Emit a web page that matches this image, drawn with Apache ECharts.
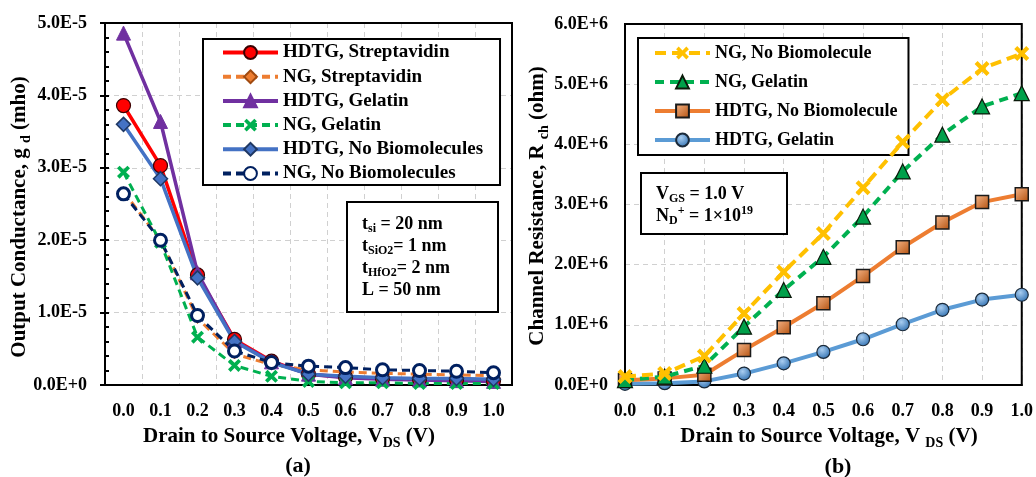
<!DOCTYPE html>
<html><head><meta charset="utf-8">
<script src="https://cdn.jsdelivr.net/npm/echarts@6/dist/echarts.min.js"></script>
<style>html,body{margin:0;padding:0;background:#fff}#c{width:1036px;height:477px}</style>
</head><body><div id="c"></div>
<script>
// ---------- data ----------
const vdsCategories = ['0.0','0.1','0.2','0.3','0.4','0.5','0.6','0.7','0.8','0.9','1.0'];
const vdsValues = [0.0,0.1,0.2,0.3,0.4,0.5,0.6,0.7,0.8,0.9,1.0];

// (a) output conductance (mho)
const gdHdtgStrept = [3.86e-5,3.03e-5,1.52e-5,0.63e-5,0.33e-5,0.15e-5,0.11e-5,0.09e-5,0.08e-5,0.07e-5,0.06e-5];
const gdNgStrept   = [2.67e-5,2.00e-5,0.92e-5,0.43e-5,0.28e-5,0.21e-5,0.18e-5,0.16e-5,0.15e-5,0.14e-5,0.13e-5];
const gdHdtgGel    = [4.86e-5,3.64e-5,1.55e-5,0.61e-5,0.32e-5,0.15e-5,0.10e-5,0.08e-5,0.07e-5,0.06e-5,0.05e-5];
const gdNgGel      = [2.94e-5,1.97e-5,0.66e-5,0.27e-5,0.12e-5,0.05e-5,0.03e-5,0.03e-5,0.02e-5,0.02e-5,0.02e-5];
const gdHdtgNoBio  = [3.60e-5,2.85e-5,1.48e-5,0.60e-5,0.31e-5,0.15e-5,0.12e-5,0.10e-5,0.09e-5,0.09e-5,0.08e-5];
const gdNgNoBio    = [2.64e-5,2.00e-5,0.96e-5,0.47e-5,0.31e-5,0.26e-5,0.24e-5,0.21e-5,0.20e-5,0.19e-5,0.17e-5];

// (b) channel resistance (ohm)
const rNgNoBio   = [0.14e6,0.19e6,0.48e6,1.19e6,1.88e6,2.52e6,3.28e6,4.04e6,4.74e6,5.26e6,5.51e6];
const rNgGel     = [0.08e6,0.14e6,0.32e6,0.97e6,1.58e6,2.13e6,2.80e6,3.55e6,4.16e6,4.63e6,4.85e6];
const rHdtgNoBio = [0.08e6,0.11e6,0.17e6,0.58e6,0.96e6,1.36e6,1.81e6,2.29e6,2.70e6,3.04e6,3.17e6];
const rHdtgGel   = [0.02e6,0.03e6,0.06e6,0.19e6,0.36e6,0.55e6,0.76e6,1.01e6,1.25e6,1.42e6,1.50e6];

const legendA = ['HDTG, Streptavidin','NG, Streptavidin','HDTG, Gelatin','NG, Gelatin','HDTG, No Biomolecules','NG, No Biomolecules'];
const legendB = ['NG, No Biomolecule','NG, Gelatin ','HDTG, No Biomolecule','HDTG, Gelatin '];

// ---------- styles ----------
const FF = '"Liberation Serif","Times New Roman",serif';
const XPATH = 'path://M0,2 L2,0 L5,3 L8,0 L10,2 L7,5 L10,8 L8,10 L5,7 L2,10 L0,8 L3,5 Z';
const expFmt = v => v.toExponential(1).replace('e','E');
const gridLine = {show:true, lineStyle:{color:'#d0d0d0', type:[5,4], width:1}};
const lbl = {color:'#000', fontFamily:FF, fontWeight:'bold', fontSize:18};

function pairs(xs, ys){ return xs.map((x,i)=>[x, ys[i]]); }

const chart = echarts.init(document.getElementById('c'));
const rich = {
  n:{fontFamily:FF, fontWeight:'bold', fontSize:18, lineHeight:22, verticalAlign:'middle', color:'#000'},
  s:{fontFamily:FF, fontWeight:'bold', fontSize:12, lineHeight:11, verticalAlign:'bottom', color:'#000'},
  p:{fontFamily:FF, fontWeight:'bold', fontSize:12, lineHeight:12, verticalAlign:'top', color:'#000'},
  t:{fontFamily:FF, fontWeight:'bold', fontSize:21, lineHeight:26, verticalAlign:'middle', color:'#000'},
  ts:{fontFamily:FF, fontWeight:'bold', fontSize:14, lineHeight:13, verticalAlign:'bottom', color:'#000'}
};

const option = {
  backgroundColor:'#fff',
  animation:false,
  grid:[
    {left:105, top:23, width:407, height:362, show:true, borderColor:'#000', borderWidth:2, containLabel:false, z:1},
    {left:625, top:24, width:404, height:361, show:true, borderColor:'#000', borderWidth:2, containLabel:false, z:1}
  ],
  xAxis:[
    {gridIndex:0, type:'category', data:vdsCategories, boundaryGap:true,
     axisLine:{lineStyle:{color:'#000', width:2}}, axisTick:{show:false},
     axisLabel:{...lbl, margin:17, interval:0}, splitLine:{...gridLine, interval:0}},
    {gridIndex:1, type:'value', min:0, max:1, interval:0.1,
     axisLine:{lineStyle:{color:'#000', width:2}}, axisTick:{show:false},
     axisLabel:{...lbl, margin:17, formatter:v=>v.toFixed(1)}, splitLine:gridLine}
  ],
  yAxis:[
    {gridIndex:0, type:'value', min:0, max:5e-5, interval:1e-5,
     axisLine:{show:true, lineStyle:{color:'#000', width:2}},
     axisTick:{show:true, length:5, lineStyle:{color:'#000', width:2}},
     axisLabel:{...lbl, margin:18, formatter:expFmt}, splitLine:gridLine},
    {gridIndex:0, type:'value', min:0, max:5e-5, interval:0.2e-5, position:'left',
     axisLine:{show:false}, axisLabel:{show:false}, splitLine:{show:false},
     axisTick:{show:true, inside:true, length:4, lineStyle:{color:'#000', width:2}}},
    {gridIndex:1, type:'value', min:0, max:6e6, interval:1e6,
     axisLine:{show:true, lineStyle:{color:'#000', width:2}}, axisTick:{show:false},
     axisLabel:{...lbl, margin:17, formatter:expFmt}, splitLine:gridLine}
  ],
  legend:[
    {orient:'vertical', left:203, top:39, data:legendA, itemWidth:55, itemHeight:16, itemGap:5.2,
     padding:[4,17,2,18], borderColor:'#000', borderWidth:2, backgroundColor:'#fff',
     lineStyle:{width:4},
     textStyle:{color:'#000', fontFamily:FF, fontWeight:'bold', fontSize:19}, selectedMode:false},
    {orient:'vertical', left:638, top:38, data:legendB, itemWidth:55, itemHeight:16, itemGap:11,
     padding:[6,11,6,15], borderColor:'#000', borderWidth:2, backgroundColor:'#fff',
     lineStyle:{width:4},
     textStyle:{color:'#000', fontFamily:FF, fontWeight:'bold', fontSize:18}, selectedMode:false}
  ],
  series:[
    {name:legendA[0], type:'line', xAxisIndex:0, yAxisIndex:0, data:gdHdtgStrept,
     lineStyle:{color:'#ff0000', width:3.5}, symbol:'circle', symbolSize:14,
     itemStyle:{color:'#ff0000', borderColor:'#3a0000', borderWidth:1.2}},
    {name:legendA[1], type:'line', xAxisIndex:0, yAxisIndex:0, data:gdNgStrept,
     lineStyle:{color:'#ed7d31', width:3, type:[8,5]}, symbol:'diamond', symbolSize:10,
     itemStyle:{color:'#ed7d31', borderColor:'#a04a10', borderWidth:1}},
    {name:legendA[2], type:'line', xAxisIndex:0, yAxisIndex:0, data:gdHdtgGel,
     lineStyle:{color:'#7030a0', width:3.5}, symbol:'triangle', symbolSize:14,
     itemStyle:{color:'#7030a0', borderColor:'#7030a0', borderWidth:1}},
    {name:legendA[3], type:'line', xAxisIndex:0, yAxisIndex:0, data:gdNgGel,
     lineStyle:{color:'#00b050', width:3, type:[8,5]}, symbol:XPATH, symbolSize:13,
     itemStyle:{color:'#00b050', borderWidth:0}},
    {name:legendA[4], type:'line', xAxisIndex:0, yAxisIndex:0, data:gdHdtgNoBio,
     lineStyle:{color:'#4472c4', width:3.5}, symbol:'diamond', symbolSize:14,
     itemStyle:{color:'#4472c4', borderColor:'#1f3864', borderWidth:1.5}},
    {name:legendA[5], type:'line', xAxisIndex:0, yAxisIndex:0, data:gdNgNoBio,
     lineStyle:{color:'#002060', width:3, type:[8,5]}, symbol:'circle', symbolSize:12,
     itemStyle:{color:'#ffffff', borderColor:'#002060', borderWidth:3}},

    {name:legendB[3], type:'line', xAxisIndex:1, yAxisIndex:2, data:pairs(vdsValues,rHdtgGel), z:2,
     lineStyle:{color:'#5b9bd5', width:4}, symbol:'circle', symbolSize:13,
     itemStyle:{color:{type:'radial', x:0.4, y:0.35, r:0.7, colorStops:[{offset:0,color:'#a9cdf0'},{offset:1,color:'#2e6fb0'}]}, borderColor:'#1b2a3a', borderWidth:1.2}},
    {name:legendB[2], type:'line', xAxisIndex:1, yAxisIndex:2, data:pairs(vdsValues,rHdtgNoBio), z:3,
     lineStyle:{color:'#ed7d31', width:4}, symbol:'rect', symbolSize:13,
     itemStyle:{color:{type:'linear', x:0, y:0, x2:1, y2:1, colorStops:[{offset:0,color:'#f7b78a'},{offset:1,color:'#b3500d'}]}, borderColor:'#1a1a1a', borderWidth:1.5}},
    {name:legendB[1], type:'line', xAxisIndex:1, yAxisIndex:2, data:pairs(vdsValues,rNgGel), z:4,
     lineStyle:{color:'#00b050', width:4, type:[9,6]}, symbol:'triangle', symbolSize:15,
     itemStyle:{color:'#00a04a', borderColor:'#0a1a0a', borderWidth:1.2}},
    {name:legendB[0], type:'line', xAxisIndex:1, yAxisIndex:2, data:pairs(vdsValues,rNgNoBio), z:5,
     lineStyle:{color:'#ffc000', width:4, type:[11,6]}, symbol:XPATH, symbolSize:15,
     itemStyle:{color:'#ffc000', borderWidth:0}}
  ],
  graphic:[
    {type:'rect', shape:{x:347, y:202, width:151, height:110}, style:{fill:'#fff', stroke:'#000', lineWidth:2}, z:10},
    {type:'text', x:362, y:213, z:11, silent:true, style:{rich:rich, align:'left', verticalAlign:'top',
      text:'{n|t}{s|si}{n| = 20 nm}\n{n|t}{s|SiO2}{n|= 1 nm}\n{n|t}{s|HfO2}{n|= 2 nm}\n{n|L = 50 nm}'}},
    {type:'rect', shape:{x:641, y:173, width:146, height:61}, style:{fill:'#fff', stroke:'#000', lineWidth:2}, z:10},
    {type:'text', x:656, y:183, z:11, silent:true, style:{rich:rich, align:'left', verticalAlign:'top',
      text:'{n|V}{s|GS}{n| = 1.0 V}\n{n|N}{s|D}{p|+}{n| = 1×10}{p|19}'}},
    {type:'text', x:289, y:437, z:11, silent:true, style:{rich:rich, align:'center', verticalAlign:'middle',
      text:'{t|Drain to Source Voltage, V}{ts|DS}{t| (V)}'}},
    {type:'text', x:829, y:437, z:11, silent:true, style:{rich:rich, align:'center', verticalAlign:'middle',
      text:'{t|Drain to Source Voltage, V }{ts|DS}{t| (V)}'}},
    {type:'text', x:20, y:217, rotation:Math.PI/2, z:11, silent:true, style:{rich:rich, align:'center', verticalAlign:'middle',
      text:'{t|Output Conductance, g }{ts|d}{t| (mho)}'}},
    {type:'text', x:538, y:206, rotation:Math.PI/2, z:11, silent:true, style:{rich:rich, align:'center', verticalAlign:'middle',
      text:'{t|Channel Resistance, R }{ts|ch}{t| (ohm)}'}},
    {type:'text', x:298, y:466, z:11, silent:true, style:{text:'(a)', fontFamily:FF, fontWeight:'bold', fontSize:22, fill:'#000', align:'center', verticalAlign:'middle'}},
    {type:'text', x:838, y:467, z:11, silent:true, style:{text:'(b)', fontFamily:FF, fontWeight:'bold', fontSize:22, fill:'#000', align:'center', verticalAlign:'middle'}}
  ]
};
chart.setOption(option);
</script>
</body></html>
